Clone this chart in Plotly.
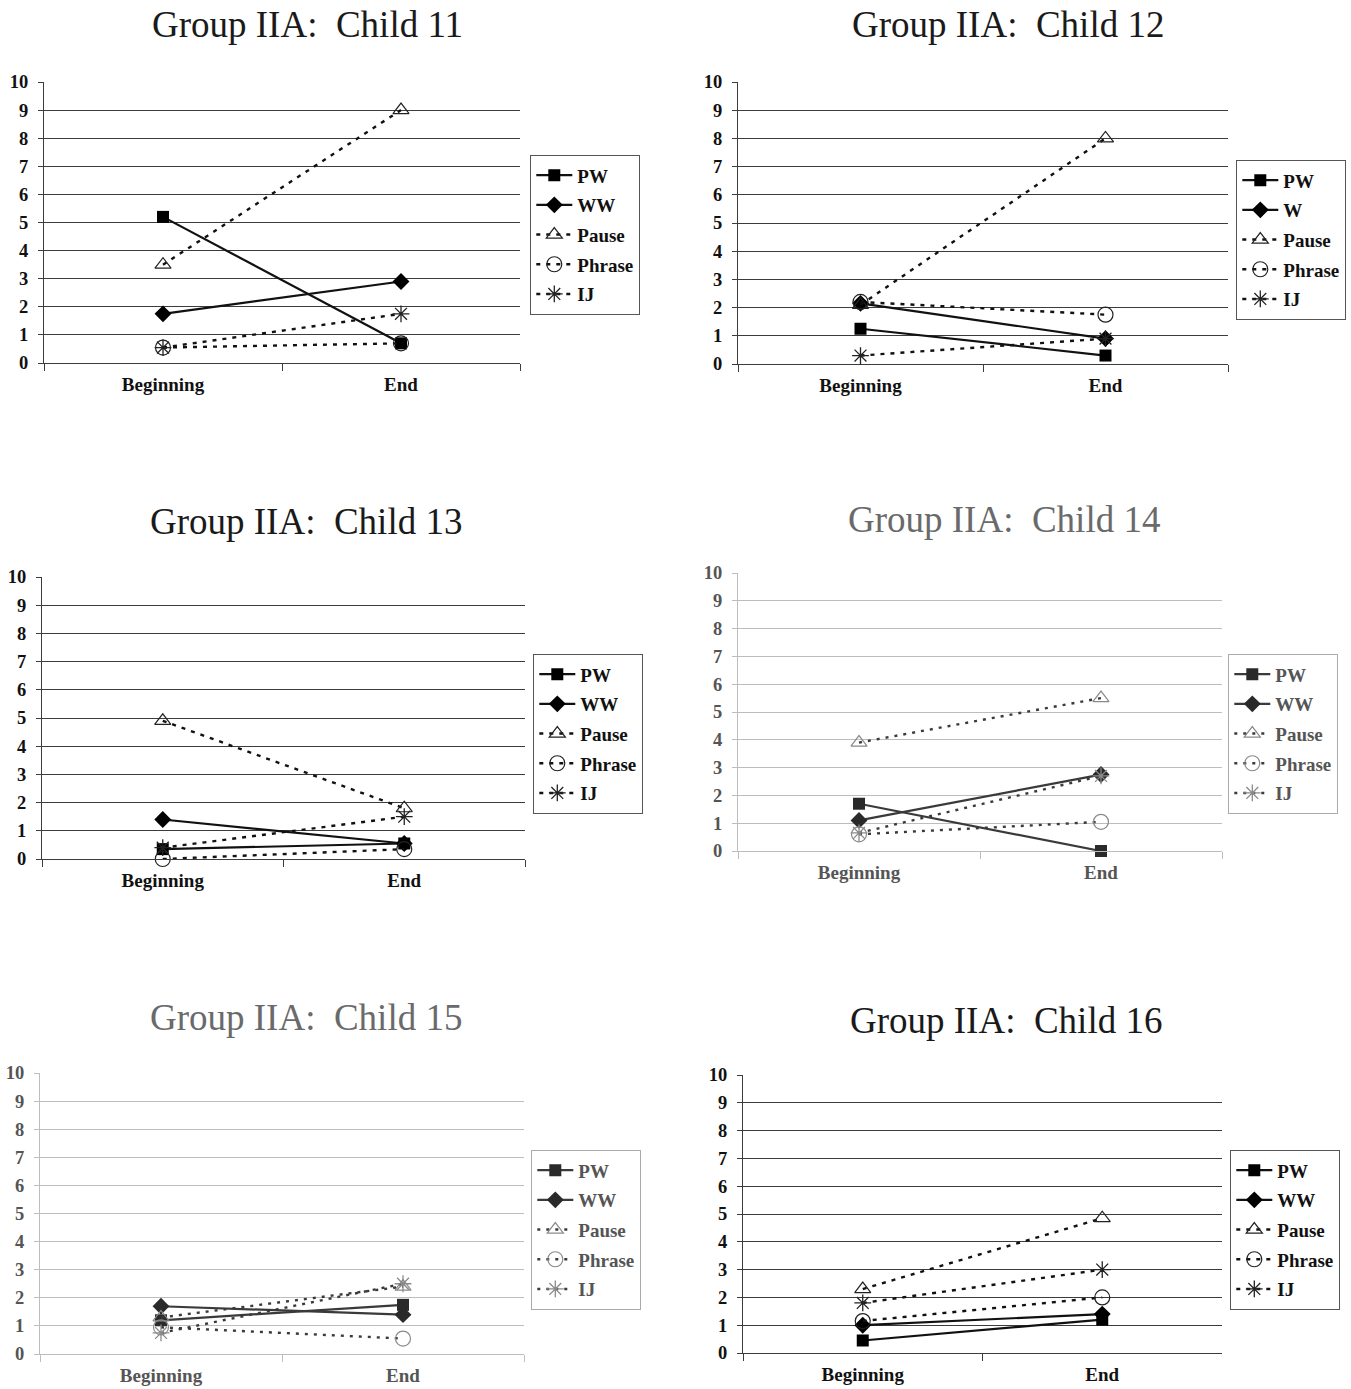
import plotly.graph_objects as go

W, H = 1351, 1389

categories = ["Beginning", "End"]
children = [11, 12, 13, 14, 15, 16]
series_names = ["PW", "WW", "Pause", "Phrase", "IJ"]
legend_labels = [
    ["PW", "WW", "Pause", "Phrase", "IJ"],
    ["PW", "W", "Pause", "Phrase", "IJ"],
    ["PW", "WW", "Pause", "Phrase", "IJ"],
    ["PW", "WW", "Pause", "Phrase", "IJ"],
    ["PW", "WW", "Pause", "Phrase", "IJ"],
    ["PW", "WW", "Pause", "Phrase", "IJ"],
]
y_ticks = [0, 1, 2, 3, 4, 5, 6, 7, 8, 9, 10]

# values per child (Beginning, End)
pw_begin = [5.2, 1.25, 0.35, 1.7, 1.2, 0.45]
pw_end = [0.7, 0.3, 0.55, 0.0, 1.75, 1.2]
ww_begin = [1.75, 2.15, 1.4, 1.1, 1.7, 1.0]
ww_end = [2.9, 0.9, 0.55, 2.75, 1.4, 1.4]
pause_begin = [3.5, 2.1, 4.9, 3.9, 1.3, 2.3]
pause_end = [9.0, 8.0, 1.8, 5.5, 2.4, 4.85]
phrase_begin = [0.55, 2.2, 0.0, 0.6, 0.95, 1.15]
phrase_end = [0.7, 1.75, 0.35, 1.05, 0.55, 2.0]
ij_begin = [0.55, 0.3, 0.4, 0.65, 0.75, 1.8]
ij_end = [1.75, 0.9, 1.5, 2.7, 2.5, 3.0]

# layout (page pixel boxes): left, right, top, bottom
plot_boxes = [
    (44, 520, 82, 363),
    (738, 1228, 82, 364),
    (42, 525, 577, 859),
    (738, 1222, 573, 851),
    (40, 524, 1073, 1354),
    (743, 1222, 1075, 1353),
]
legend_pos = [(530, 155), (1236, 160), (533, 654), (1228, 654), (531, 1150), (1230, 1150)]
title_pos = [(307, 25), (1008, 25), (306, 521), (1004, 519), (306, 1018), (1006, 1020)]
faded = [False, False, False, True, True, False]


def px_x(v):
    return v / W


def px_y(v):
    return 1 - v / H


SERIF = "Liberation Serif, Times New Roman, serif"

fig = go.Figure()
layout = dict(
    template="none",
    width=W, height=H, margin=dict(l=0, r=0, t=0, b=0, pad=0, autoexpand=False),
    paper_bgcolor="white", plot_bgcolor="white", showlegend=True,
)

series_data = [
    (pw_begin, pw_end),
    (ww_begin, ww_end),
    (pause_begin, pause_end),
    (phrase_begin, phrase_end),
    (ij_begin, ij_end),
]

annotations = []
for i, child in enumerate(children):
    n = "" if i == 0 else str(i + 1)
    xa, ya = "x" + n, "y" + n
    leg = "legend" + n
    fd = faded[i]
    line_col = "#3a3a3a" if fd else "#111111"
    mk_col = "#2a2a2a" if fd else "#000000"
    open_col = "#8a8a8a" if fd else "#222222"
    grid_col = "#bdbdbd" if fd else "#3c3c3c"
    text_col = "#555555" if fd else "#111111"
    title_col = "#6a6a6a" if fd else "#1a1a1a"
    dash = "3px,6px" if fd else "4px,6px"

    styles = [
        dict(line=dict(color=line_col, width=2.2),
             marker=dict(symbol="square", size=12, color=mk_col)),
        dict(line=dict(color=line_col, width=2.2),
             marker=dict(symbol="diamond", size=13, color=mk_col)),
        dict(line=dict(color=line_col, width=2.4, dash=dash),
             marker=dict(symbol="triangle-up-open", size=14, color=open_col, line=dict(width=1.2))),
        dict(line=dict(color=line_col, width=2.4, dash=dash),
             marker=dict(symbol="circle-open", size=15, color=open_col, line=dict(width=1.2))),
        dict(line=dict(color=line_col, width=2.4, dash=dash),
             marker=dict(symbol="asterisk-open", size=14, color=open_col, line=dict(width=1.3))),
    ]
    for s, (b, e) in enumerate(series_data):
        fig.add_trace(go.Scatter(
            x=categories, y=[b[i], e[i]], mode="lines+markers",
            name=legend_labels[i][s], xaxis=xa, yaxis=ya, legend=leg,
            legendgroup=f"g{i}_{s}", cliponaxis=False, hoverinfo="skip",
            **styles[s]))

    l, r, t, btm = plot_boxes[i]
    layout["xaxis" + n] = dict(
        domain=[px_x(l), px_x(r)], anchor=ya, type="category",
        categoryorder="array", categoryarray=categories, automargin=False,
        range=[-0.5, 1.5], tickson="boundaries", ticks="outside", ticklen=7,
        tickcolor=grid_col, showline=True, linecolor=grid_col, linewidth=1.2,
        showgrid=False, zeroline=False, ticklabelstandoff=4,
        tickfont=dict(family=SERIF, size=19, color=text_col, weight="bold"),
        fixedrange=True,
    )
    layout["yaxis" + n] = dict(
        domain=[px_y(btm), px_y(t)], anchor=xa, range=[0, 10], automargin=False,
        tickvals=y_ticks, ticks="outside", ticklen=5, tickcolor=grid_col,
        showline=True, linecolor=grid_col, linewidth=1.2,
        showgrid=True, gridcolor=grid_col, gridwidth=1.3, zeroline=False,
        ticklabelstandoff=6,
        tickfont=dict(family=SERIF, size=18.5, color=text_col, weight="bold"),
        fixedrange=True,
    )
    lx, ly = legend_pos[i]
    layout[leg] = dict(
        x=px_x(lx), y=px_y(ly), xanchor="left", yanchor="top",
        xref="paper", yref="paper",
        bordercolor="#555555" if not fd else "#aaaaaa", borderwidth=1.3,
        bgcolor="white", tracegroupgap=2, itemwidth=36,
        font=dict(family=SERIF, size=19, color=text_col, weight="bold"),
    )
    tx, ty = title_pos[i]
    annotations.append(dict(
        text=f"Group IIA:\u00a0 Child {child}", x=px_x(tx), y=px_y(ty),
        xref="paper", yref="paper", xanchor="center", yanchor="middle",
        showarrow=False, font=dict(family=SERIF, size=37, color=title_col),
    ))

layout["annotations"] = annotations
fig.update_layout(**layout)
fig.write_html(
    "out.html",
    config={"displayModeBar": False},
    post_script="document.body.style.margin='0';document.body.style.overflow='hidden';",
)
